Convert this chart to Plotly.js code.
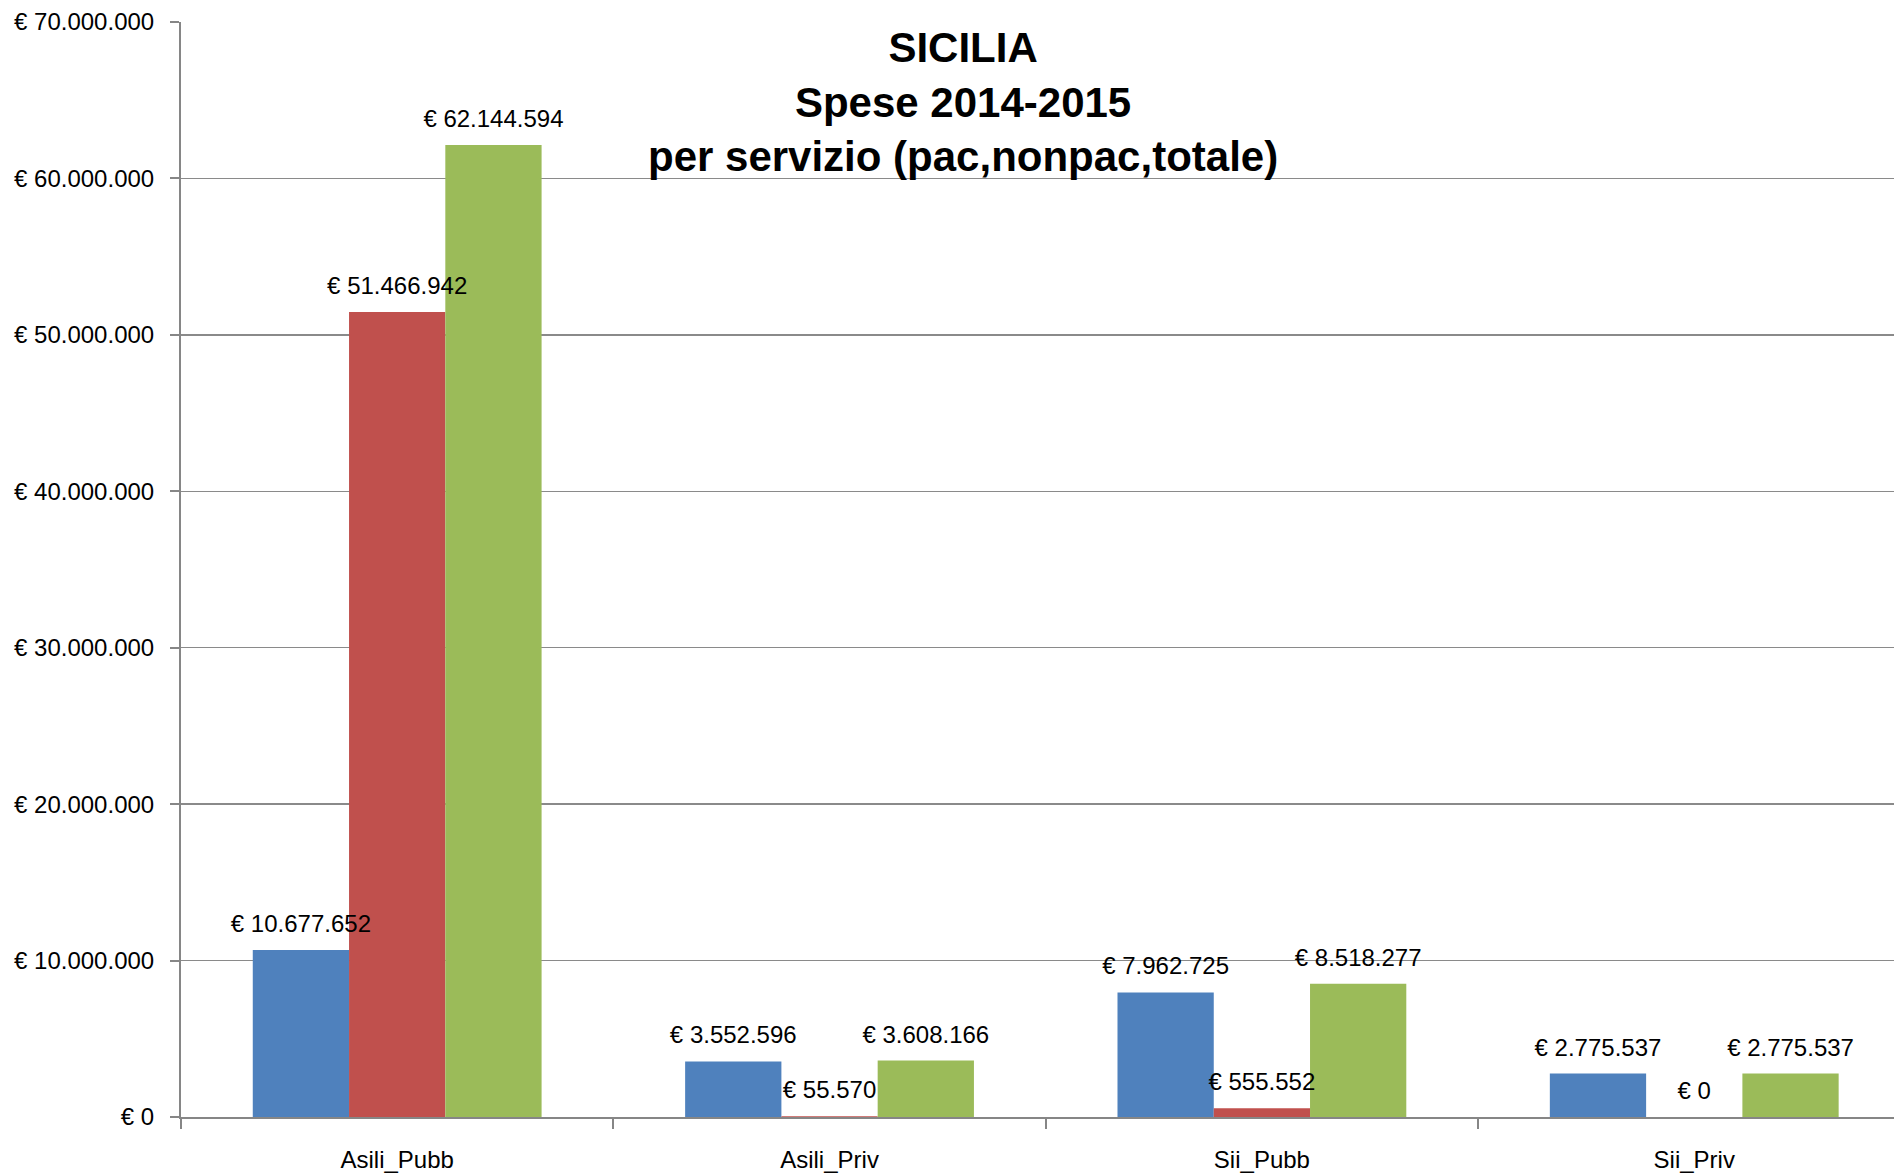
<!DOCTYPE html>
<html>
<head>
<meta charset="utf-8">
<script src="https://cdn.plot.ly/plotly-3.0.1.min.js"></script>
<style>html,body{margin:0;padding:0;background:#fff;}#chart{width:1894px;height:1173px;}</style>
</head>
<body>
<div id="chart"></div>
<script>
const categories = ["Asili_Pubb", "Asili_Priv", "Sii_Pubb", "Sii_Priv"];
const seriesNames = ["pac", "nonpac", "totale"];
const pac    = [10677652, 3552596, 7962725, 2775537];
const nonpac = [51466942, 55570, 555552, 0];
const totale = [62144594, 3608166, 8518277, 2775537];
const yTicks = [0, 10000000, 20000000, 30000000, 40000000, 50000000, 60000000, 70000000];
const yTickText = ["€ 0", "€ 10.000.000", "€ 20.000.000", "€ 30.000.000", "€ 40.000.000", "€ 50.000.000", "€ 60.000.000", "€ 70.000.000"];

const colors = ["#4F81BD", "#C0504D", "#9BBB59"];
const values = [pac, nonpac, totale];
const FONT = "Liberation Sans, Arial, sans-serif";
const FS = 24;
const Y_MAX = 70000000;
const LABEL_LIFT = 640000; // extra gap between bar top and its value label

const traces = [];
values.forEach((v, i) => {
  traces.push({
    type: "bar", x: categories, y: v, name: seriesNames[i],
    offsetgroup: String(i),
    marker: {color: colors[i], line: {width: 0}},
    hoverinfo: "skip"
  });
});
// value labels, drawn above all bars
values.forEach((v, i) => {
  traces.push({
    type: "bar", x: categories, y: v, name: seriesNames[i] + "_lbl",
    yaxis: "y2",
    offsetgroup: String(i),
    marker: {color: "rgba(0,0,0,0)", line: {width: 0}},
    texttemplate: "€ %{y:,d}",
    textposition: "outside",
    constraintext: "none",
    cliponaxis: false,
    outsidetextfont: {family: FONT, size: FS, color: "#000"},
    hoverinfo: "skip",
    showlegend: false
  });
});

const layout = {
  width: 1894, height: 1173,
  paper_bgcolor: "#fff", plot_bgcolor: "#fff",
  separators: ",.",
  showlegend: false,
  barmode: "group", bargap: 0.332, bargroupgap: 0,
  margin: {l: 181, r: 0, t: 22, b: 55.5, pad: 0},
  font: {family: FONT, size: FS, color: "#000"},
  annotations: [{
    text: "<b>SICILIA<br>Spese 2014-2015<br>per servizio (pac,nonpac,totale)</b>",
    font: {family: FONT, size: 42, color: "#000"},
    xref: "paper", yref: "paper",
    x: (963 - 181) / 1713, xanchor: "center",
    y: 1 - (102 - 22) / 1095.5, yanchor: "middle",
    showarrow: false, align: "center"
  }],
  xaxis: {
    type: "category",
    range: [-0.5, 3.462],
    showgrid: false,
    showline: true, linecolor: "#868686", linewidth: 2,
    ticks: "outside", tickson: "boundaries", ticklen: 10, tickcolor: "#868686", tickwidth: 2,
    ticklabelstandoff: 20,
    tickfont: {family: FONT, size: FS, color: "#000"},
    zeroline: false, fixedrange: true
  },
  yaxis: {
    range: [0, Y_MAX],
    tickmode: "array", tickvals: yTicks, ticktext: yTickText,
    showgrid: true, gridcolor: "#8a8a8a", gridwidth: 1.5,
    showline: true, linecolor: "#868686", linewidth: 2,
    ticks: "outside", ticklen: 9, tickcolor: "#868686", tickwidth: 2,
    ticklabelstandoff: 11,
    tickfont: {family: FONT, size: FS, color: "#000"},
    zeroline: false, fixedrange: true
  },
  yaxis2: {
    overlaying: "y",
    range: [-LABEL_LIFT, Y_MAX - LABEL_LIFT],
    visible: false, showgrid: false, zeroline: false, fixedrange: true
  }
};

Plotly.newPlot("chart", traces, layout, {displayModeBar: false, staticPlot: true});
</script>
</body>
</html>
